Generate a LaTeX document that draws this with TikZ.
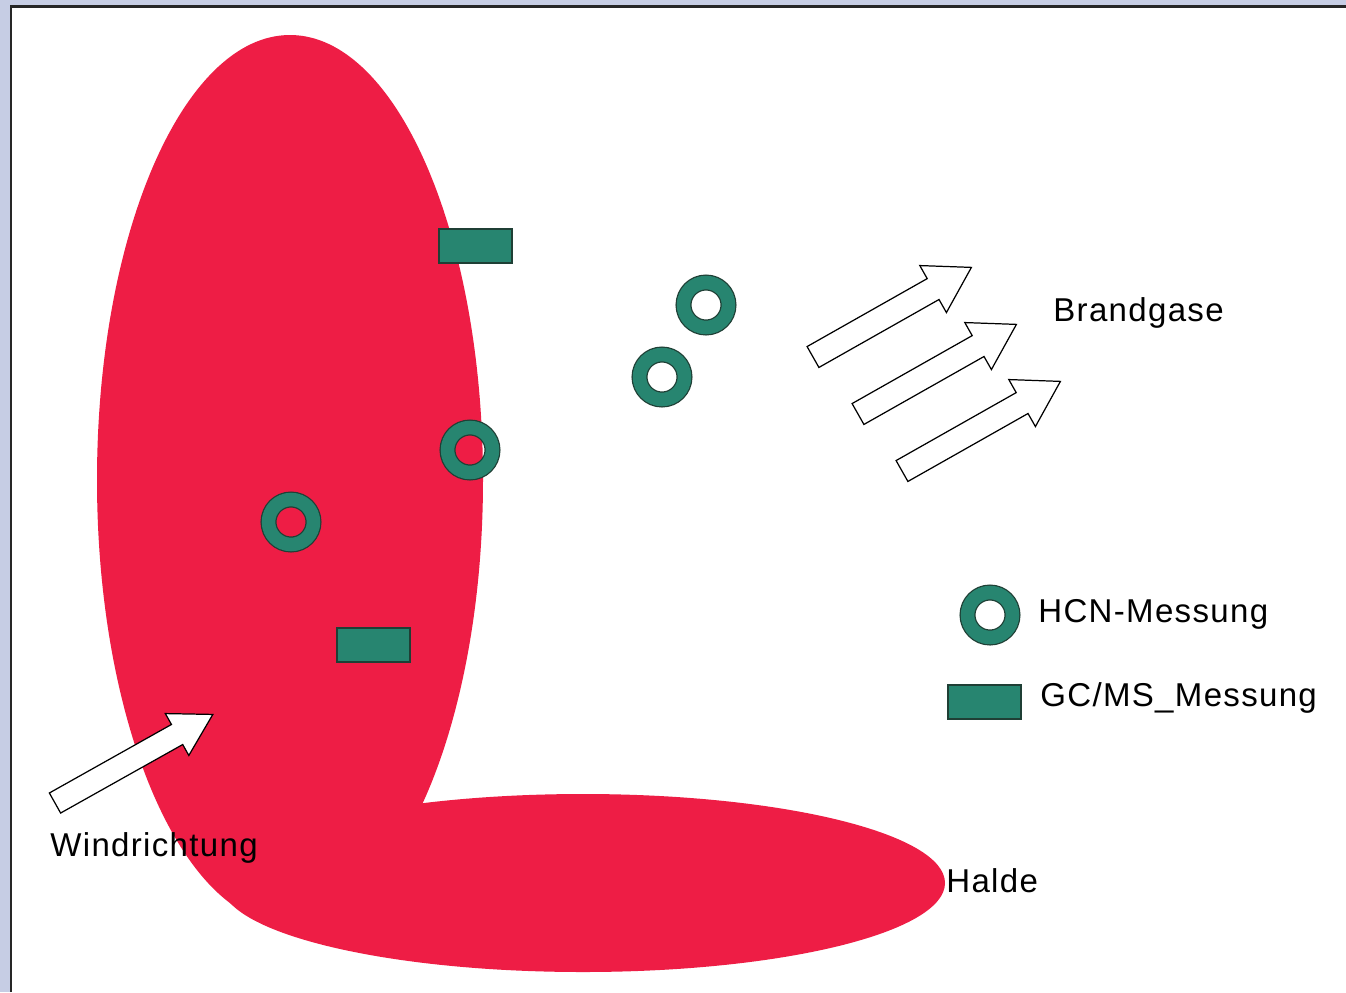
\documentclass[tikz,border=0pt]{standalone}
\usepackage{fontspec}
\setmainfont{Liberation Sans}[LetterSpace=4]
\usetikzlibrary{positioning}
\definecolor{haldered}{HTML}{EE1D45}
\definecolor{messgruen}{HTML}{278570}
\definecolor{messdunkel}{HTML}{1F3F35}
\definecolor{rahmen}{HTML}{C6CDE4}
\tikzset{
  hcnring/.style={circle,inner sep=0pt,minimum size=0.9cm,draw=messdunkel,line width=0.32cm,
    postaction={draw=messgruen,line width=0.27cm}},
  gcbox/.style={rectangle,inner sep=0pt,minimum width=1.46cm,minimum height=0.68cm,
    fill=messgruen,draw=messdunkel,line width=0.6pt},
  pfeil/.style={draw=black,fill=white,line width=0.7pt,line join=miter},
  beschriftung/.style={anchor=west,inner sep=0pt,font=\fontsize{18.8}{22}\selectfont}
}

\begin{document}
\begin{tikzpicture}[x=0.02cm,y=-0.02cm]
    \useasboundingbox (0,0) rectangle (1346,992);
    \fill[rahmen] (0,0) rectangle (1346,992);
    \fill[white] (11,6) rectangle (1346,992);
    \draw[line width=1.7pt,black!85] (11,992) -- (11,6) -- (1346,6);
    % Halde
    \fill[haldered] (290,480) ellipse [x radius=193,y radius=445];
    \fill[haldered] (583,883) ellipse [x radius=362,y radius=89];
    % Windrichtung
    \draw[pfeil,shift={(55,803)},rotate=29.3] (0,-11.5) -- (140,-11.5) -- (140,-24) -- (181,0)
      -- (140,24) -- (140,11.5) -- (0,11.5) -- cycle;
    % Brandgase
    \foreach \px/\py in {813/357,858/414,902/471} {
      \draw[pfeil,shift={(\px,\py)},rotate=29.5] (0,-12) -- (138,-12) -- (138,-27) -- (182,0)
        -- (138,27) -- (138,12) -- (0,12) -- cycle;
    }
    % Messpunkte
    \node[hcnring] (hcn1) at (706,305) {};
    \node[hcnring] (hcn2) at (662,377) {};
    \node[hcnring] (hcn3) at (470,450) {};
    \node[hcnring] (hcn4) at (291,522) {};
    \node[gcbox] (gc1) at (475.5,246) {};
    \node[gcbox] (gc2) at (373.5,645) {};
    % Legende
    \node[hcnring] (leghcn) at (990,615) {};
    \node[gcbox] (leggc) at (984.5,702) {};
    \node[beschriftung] (txthcn) at (1038,614) {HCN-Messung};
    \node[beschriftung] (txtgc) at (1040,698) {GC/MS\_Messung};
    \node[beschriftung] (txtbrand) at (1053,313) {Brandgase};
    \node[beschriftung] (txtwind) at (50,848) {Windrichtung};
    \node[beschriftung] (txthalde) at (946,881) {Halde};
  \end{tikzpicture}
\end{document}
